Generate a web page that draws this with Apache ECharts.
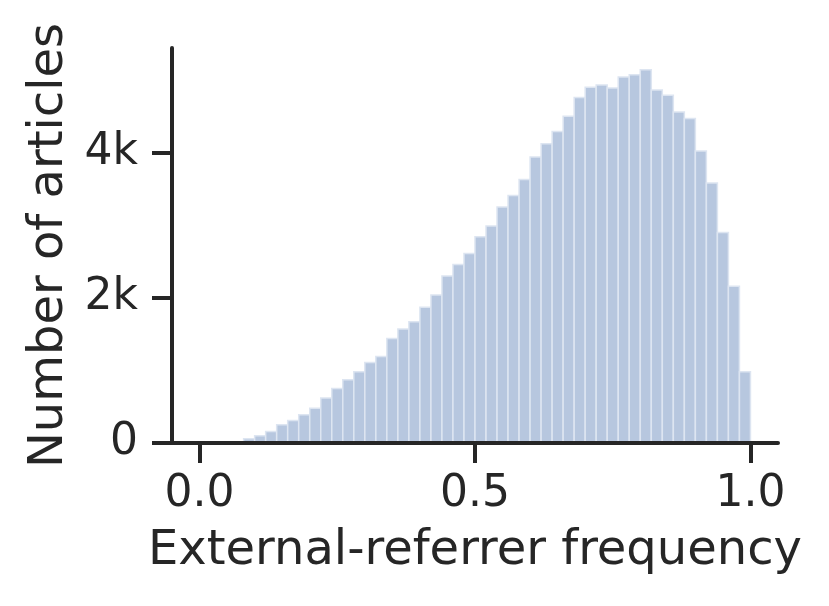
<!DOCTYPE html>
<html>
<head>
<meta charset="utf-8">
<script src="https://cdn.jsdelivr.net/npm/echarts@6/dist/echarts.min.js"></script>
<style>
html,body{margin:0;padding:0;background:#fff;}
#chart{width:829px;height:606px;}
</style>
</head>
<body>
<div id="chart"></div>
<script>
// Histogram bin width and counts (bins from 0.00 to 1.00)
const binWidth = 0.02;
const counts = [0, 0, 0, 0, 60, 100, 160, 250, 310, 390,
                480, 620, 750, 870, 980, 1110, 1190, 1440, 1570, 1670,
                1870, 2040, 2300, 2460, 2610, 2840, 2990, 3250, 3410, 3630,
                3940, 4120, 4290, 4500, 4760, 4900, 4930, 4890, 5040, 5070,
                5140, 4860, 4790, 4560, 4470, 4020, 3580, 2900, 2160, 980];
const xTicks = [0, 0.5, 1.0];
const xTickLabels = ['0.0', '0.5', '1.0'];
const yTicks = [0, 2000, 4000];
const yTickLabels = ['0', '2k', '4k'];
const xLabel = 'External-referrer frequency';
const yLabel = 'Number of articles';

const data = counts.map((c, i) => [+(i * binWidth).toFixed(2), +((i + 1) * binWidth).toFixed(2), c]);

const ink = '#262626';
const font = 'DejaVu Sans';

const chart = echarts.init(document.getElementById('chart'), null, {renderer: 'canvas'});
chart.setOption({
  animation: false,
  backgroundColor: '#ffffff',
  grid: {left: 172, width: 606, top: 48, height: 395, containLabel: false},
  xAxis: {
    type: 'value', min: -0.05, max: 1.05, z: 5,
    splitLine: {show: false},
    axisLine: {show: true, lineStyle: {color: ink, width: 4}},
    axisTick: {show: true, length: 20, lineStyle: {color: ink, width: 4}, customValues: xTicks},
    axisLabel: {
      customValues: xTicks, margin: 30, color: ink, fontFamily: font, fontSize: 44,
      formatter: v => xTickLabels[xTicks.findIndex(t => Math.abs(t - v) < 1e-9)] ?? ''
    },
    name: xLabel, nameLocation: 'middle', nameGap: 85,
    nameTextStyle: {color: ink, fontFamily: font, fontSize: 48}
  },
  yAxis: {
    type: 'value', min: 0, max: 5440, z: 5,
    splitLine: {show: false},
    axisLine: {show: true, onZero: false, lineStyle: {color: ink, width: 4}},
    axisTick: {show: true, length: 20, lineStyle: {color: ink, width: 4}, customValues: yTicks},
    axisLabel: {
      customValues: yTicks, margin: 34, color: ink, fontFamily: font, fontSize: 44,
      formatter: v => yTickLabels[yTicks.indexOf(v)] ?? ''
    },
    name: yLabel, nameLocation: 'middle', nameGap: 97, nameRotate: 90,
    nameTextStyle: {color: ink, fontFamily: font, fontSize: 48}
  },
  series: [{
    type: 'custom',
    z: 1,
    data: data,
    encode: {x: [0, 1], y: 2},
    renderItem: function (params, api) {
      const v = api.value(2);
      if (!v) return null;
      const p0 = api.coord([api.value(0), v]);
      const p1 = api.coord([api.value(1), 0]);
      return {
        type: 'rect',
        shape: {x: p0[0], y: p0[1], width: p1[0] - p0[0], height: p1[1] - p0[1]},
        style: {fill: '#b7c7df', stroke: '#dde5f1', lineWidth: 1.5}
      };
    }
  }]
});
</script>
</body>
</html>
